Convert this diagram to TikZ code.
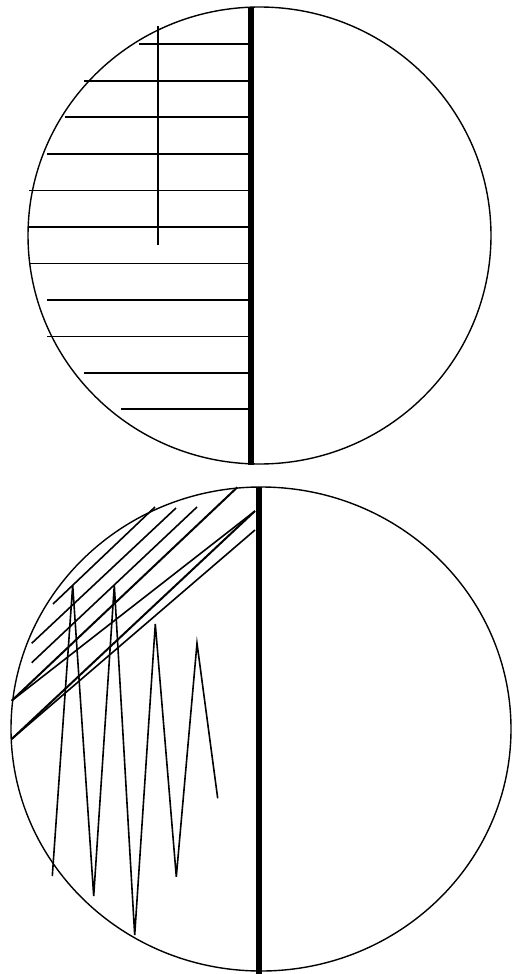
\documentclass[tikz,border=0pt]{standalone}
\begin{document}
\begin{tikzpicture}[x=1pt,y=-1pt,
  thin line/.style={line width=1.4pt},
  thick bar/.style={line width=6pt},
  hatch/.style={line width=1.6pt}]
\useasboundingbox (0,0) rectangle (512,974);
% top circle
\draw[thin line] (259.5,235.5) ellipse [x radius=231.5, y radius=228.5];
\foreach \y/\x in {44/139, 80.7/84, 117/65, 154/47, 190.3/29, 226.7/29, 263.3/30, 300/47, 336.3/47, 372.7/84, 409/121}
  \draw[hatch] (\x,\y) -- (250,\y);
\draw[hatch] (158,26) -- (158,245);
\draw[thick bar] (250.5,7) -- (250.5,464.5);
% bottom circle
\draw[thin line] (261,729) ellipse [x radius=250, y radius=242];
\draw[hatch] (155,507) -- (53,604);
\draw[hatch] (176,508) -- (31.7,643.3);
\draw[hatch] (197,507) -- (31.7,662.7);
\draw[line width=2pt] (237.3,487.3) -- (11.7,700.7);
\draw[hatch] (255,511) -- (11.7,700.7);
\draw[line width=2pt] (255,511) -- (11.7,739);
\draw[hatch] (255,530) -- (11.7,739);
\draw[hatch, line join=miter] (52.3,876) -- (72.7,585.3) -- (93.7,896) -- (114.3,585.3) -- (134.7,935) -- (155.3,624) -- (176.3,876.7) -- (197,643.3) -- (217.7,798.3);
\draw[thick bar] (259,487) -- (259,974);
\end{tikzpicture}
\end{document}
